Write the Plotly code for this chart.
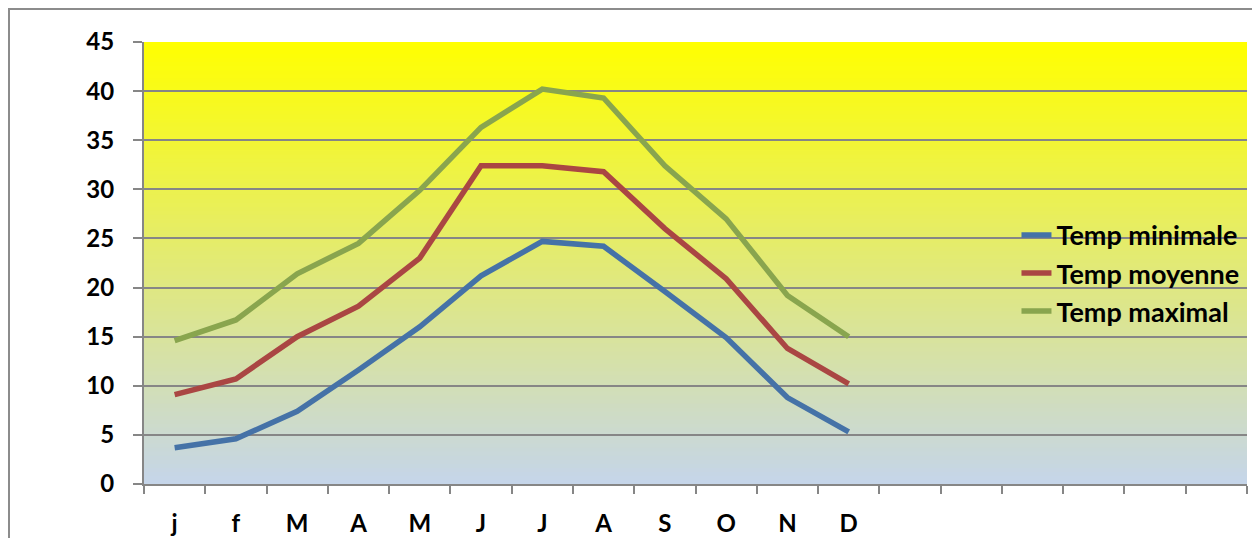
import plotly.graph_objects as go

months = ["j", "f", "M", "A", "M", "J", "J", "A", "S", "O", "N", "D"]
n_slots = 18
temp_min = [3.7, 4.6, 7.4, 11.6, 16.0, 21.2, 24.7, 24.2, 19.6, 14.9, 8.8, 5.3]
temp_moy = [9.1, 10.7, 15.0, 18.1, 23.0, 32.4, 32.4, 31.8, 26.0, 20.9, 13.8, 10.2]
temp_max = [14.6, 16.7, 21.4, 24.5, 29.9, 36.3, 40.2, 39.3, 32.4, 27.0, 19.2, 15.0]
series_names = ["Temp minimale", "Temp moyenne", "Temp maximal"]
series_colors = ["#4572A7", "#AA4643", "#89A54E"]

FONT = "Lato"
GRID = "#868686"

# page body has an 8px margin: size the figure so the plot lands where the reference has it
W, H = 1252, 530
ML, MT, MR, MB = 136, 34, 13, 53.5
PW = W - ML - MR
PH = H - MT - MB

x_idx = list(range(len(months)))
fig = go.Figure()
for i, (name, vals, col) in enumerate(zip(series_names, [temp_min, temp_moy, temp_max], series_colors)):
    fig.add_trace(go.Scatter(
        x=x_idx, y=vals, name=name, mode="lines",
        line=dict(color=col, width=5.5),
        legendgroup=f"g{i}",
    ))

# gradient background of plot area (yellow top -> light blue bottom)
top = (255, 255, 0)
bot = (197, 213, 234)
shapes = []
N = 110
for k in range(N):
    t = (k + 0.5) / N
    c = tuple(int(round(bot[j] + (top[j] - bot[j]) * t)) for j in range(3))
    shapes.append(dict(type="rect", xref="paper", yref="paper",
                       x0=0, x1=1, y0=k / N, y1=min(1.0, (k + 1.6) / N),
                       fillcolor=f"rgb{c}", line=dict(width=0), layer="below"))
# outer chart border
shapes.append(dict(type="rect", xref="paper", yref="paper",
                   x0=(1 - ML) / PW, x1=(W - 2 - ML) / PW,
                   y0=-0.3, y1=(PH + MT - 1) / PH,
                   line=dict(color="#8c8c8c", width=2), fillcolor="rgba(0,0,0,0)",
                   layer="below"))

fig.update_layout(
    width=W, height=H,
    margin=dict(l=ML, r=MR, t=MT, b=MB, autoexpand=False),
    paper_bgcolor="white", plot_bgcolor="rgba(0,0,0,0)",
    shapes=shapes,
    font=dict(family=FONT, size=24, color="black", weight="bold"),
    showlegend=True,
    legend=dict(x=0.791, y=0.618, xanchor="left", yanchor="top",
                bgcolor="rgba(0,0,0,0)", tracegroupgap=0,
                font=dict(family=FONT, size=27, color="black", weight="bold")),
    xaxis=dict(
        range=[-0.5, n_slots - 0.5], automargin=False,
        tickmode="array", tickvals=x_idx, ticktext=months,
        ticks="", showgrid=False, zeroline=False,
        showline=True, linecolor=GRID, linewidth=2,
        ticklabelstandoff=17,
        tickfont=dict(family=FONT, size=24, color="black", weight="bold"),
        minor=dict(tickmode="array",
                   tickvals=[v - 0.5 for v in range(n_slots + 1)],
                   ticks="outside", ticklen=8, tickwidth=2, tickcolor=GRID,
                   showgrid=False),
    ),
    yaxis=dict(
        range=[0, 45], dtick=5, tick0=0, automargin=False,
        showgrid=True, gridcolor=GRID, gridwidth=2,
        zeroline=False, showline=True, linecolor=GRID, linewidth=2,
        ticks="outside", ticklen=9, tickwidth=2, tickcolor=GRID,
        ticklabelstandoff=14,
        tickfont=dict(family=FONT, size=24, color="black", weight="bold"),
    ),
)

fig.write_html("out.html")
